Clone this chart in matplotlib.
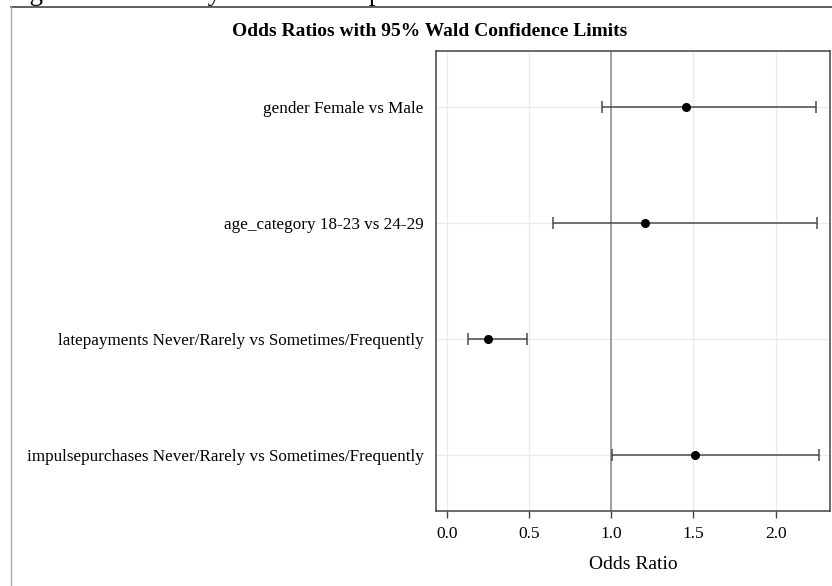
import numpy as np
import matplotlib.pyplot as plt
from matplotlib.lines import Line2D

# odds ratio estimates
etiquetas = ['gender Female vs Male',
             'age_category 18-23 vs 24-29',
             'latepayments Never/Rarely vs Sometimes/Frequently',
             'impulsepurchases Never/Rarely vs Sometimes/Frequently']
estimativas = [1.453, 1.204, 0.250, 1.510]
inferior = [0.942, 0.646, 0.131, 1.005]
superior = [2.245, 2.248, 0.490, 2.266]
ticks_x = [0.0, 0.5, 1.0, 1.5, 2.0]

plt.rcParams['font.family'] = ['Liberation Serif', 'DejaVu Serif']

W, H = 832, 586
fig = plt.figure(figsize=(W / 100, H / 100), dpi=100)

# caption of the document, cut off at the top of the image
fig.text(7 / W, 1 - 0.5 / H, 'Figure 15: Late Payments and Impulse Purchases Odds Ratio',
         fontsize=19.5, va='baseline', ha='left', color='black')
# outer frame of the SAS graph
fig.add_artist(Line2D([11 / W, 1], [1 - 7 / H, 1 - 7 / H], color='#444444', lw=1.2))
fig.add_artist(Line2D([11 / W, 11 / W], [0, 1 - 7 / H], color='#aaaaaa', lw=1.0))

fig.text(430 / W, 1 - 31 / H, 'Odds Ratios with 95% Wald Confidence Limits',
         fontsize=14, fontweight='bold', ha='center', va='center')

ax = fig.add_axes([436 / W, 1 - 511 / H, (830 - 436) / W, (511 - 51) / H])

y = np.arange(len(etiquetas))
est = np.array(estimativas)
err = np.array([est - np.array(inferior), np.array(superior) - est])

ax.axvline(1.0, color='#999999', lw=1.3, zorder=1)
ax.errorbar(est, y, xerr=err, fmt='none', ecolor='#4a4a4a', elinewidth=1.1,
            capsize=4.6, capthick=1.1, zorder=2)
ax.plot(est, y, 'o', color='black', markersize=5.5, zorder=3)

ax.set_xlim(-0.065, 2.33)
ax.set_ylim(3.485, -0.485)
ax.set_xticks(ticks_x)
ax.set_xticklabels([f'{t:.1f}' for t in ticks_x], fontsize=12.5)
ax.set_yticks(y)
ax.set_yticklabels(etiquetas, fontsize=12.3)
ax.tick_params(axis='y', length=0, pad=9)
ax.tick_params(axis='x', length=5, width=1, color='#444444', pad=6)
ax.grid(True, color='#ebebeb', lw=1)
ax.set_axisbelow(True)
for s in ax.spines.values():
    s.set_color('#444444')
    s.set_linewidth(1.1)
ax.set_xlabel('Odds Ratio', fontsize=14, labelpad=10)

plt.savefig('out.png', dpi=100)
